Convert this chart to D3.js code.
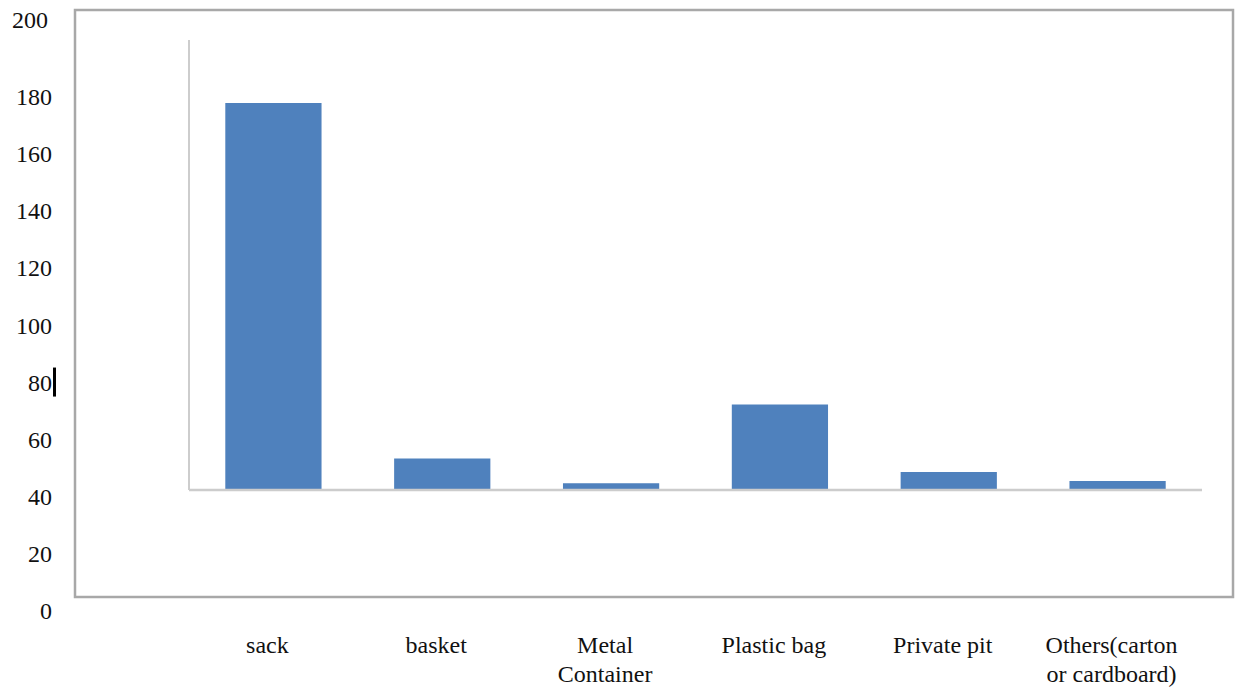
<!DOCTYPE html>
<html>
<head>
<meta charset="utf-8">
<script src="https://cdn.jsdelivr.net/npm/d3@7"></script>
<style>
    body { margin: 0; background: #fff; }
    text { font-family: "Liberation Serif", "Times New Roman", serif; fill: #111; }
</style>
</head>
<body>
<svg id="chart" width="1241" height="690"></svg>
<script>
// data
let categories = ["sack", "basket", "Metal Container", "Plastic bag", "Private pit", "Others(carton or cardboard)"];
let labelLines = [["sack"], ["basket"], ["Metal", "Container"], ["Plastic bag"], ["Private pit"], ["Others(carton", "or cardboard)"]];
let counts = [172, 14, 3, 38, 8, 4];
let tickValues = [0, 20, 40, 60, 80, 100, 120, 140, 160, 180, 200];

let svg = d3.select("#chart");

// outer frame
svg.append("rect")
    .attr("x", 75).attr("y", 10)
    .attr("width", 1158).attr("height", 587)
    .attr("fill", "none")
    .attr("stroke", "#a8a8a8")
    .attr("stroke-width", 2.5);

// outer tick labels (they sit on their own scale, the top one is pushed up)
let outerY = d3.scaleLinear().domain([0, 180]).range([611, 97]);
svg.selectAll(".tick-label")
    .data(tickValues)
    .enter()
    .append("text")
    .attr("class", "tick-label")
    .attr("x", d => d === 200 ? 48 : 52)
    .attr("y", d => d === 200 ? outerY(d) - 20 : outerY(d))
    .attr("dy", "0.34em")
    .attr("text-anchor", "end")
    .attr("font-size", 24)
    .text(d => d);

// little black cursor mark beside "80"
svg.append("rect")
    .attr("x", 53).attr("y", outerY(80) - 15)
    .attr("width", 3).attr("height", 29)
    .attr("fill", "#000");

// inner plot
let x = d3.scaleBand()
    .domain(categories)
    .range([189, 1202])
    .paddingInner(0.43)
    .paddingOuter(0.215);

let y = d3.scaleLinear().domain([0, 200]).range([490, 40]);

svg.append("line")
    .attr("x1", 189).attr("x2", 189)
    .attr("y1", y(200)).attr("y2", y(0))
    .attr("stroke", "#bdbdbd")
    .attr("stroke-width", 1.5);

svg.selectAll(".bar")
    .data(counts)
    .enter()
    .append("rect")
    .attr("class", "bar")
    .attr("x", (d, i) => x(categories[i]))
    .attr("y", d => y(d))
    .attr("width", x.bandwidth())
    .attr("height", d => y(0) - y(d))
    .attr("fill", "#4f81bd");

svg.append("line")
    .attr("x1", 189).attr("x2", 1202)
    .attr("y1", y(0)).attr("y2", y(0))
    .attr("stroke", "#cccccc")
    .attr("stroke-width", 2.5);

// category labels under the frame
let cat = svg.selectAll(".cat")
    .data(labelLines)
    .enter()
    .append("text")
    .attr("class", "cat")
    .attr("text-anchor", "middle")
    .attr("font-size", 24);

cat.selectAll("tspan")
    .data((d, i) => d.map(line => ({ line: line, cx: x(categories[i]) + x.bandwidth() / 2 - 6 })))
    .enter()
    .append("tspan")
    .attr("x", d => d.cx)
    .attr("y", (d, j) => 653 + j * 29)
    .text(d => d.line);
</script>
</body>
</html>
